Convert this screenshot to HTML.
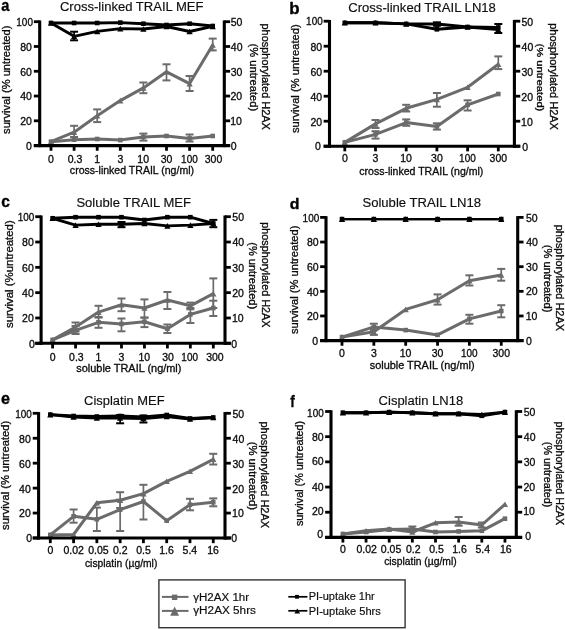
<!DOCTYPE html>
<html><head><meta charset="utf-8"><style>
html,body{margin:0;padding:0;background:#fff;}
svg{display:block;filter:grayscale(100%) blur(0.3px);}
text{font-family:"Liberation Sans",sans-serif;stroke:#000;stroke-width:0.3px;}
.lbl{stroke-width:0.35px;}
.ttl{stroke-width:0.15px;}
</style></head><body>
<svg width="565" height="630" viewBox="0 0 565 630">
<rect width="565" height="630" fill="#fff"/>
<line x1="143.40" y1="133.60" x2="143.40" y2="140.60" stroke="#6b6b6b" stroke-width="1.7" stroke-linecap="butt"/>
<line x1="139.40" y1="133.60" x2="147.40" y2="133.60" stroke="#6b6b6b" stroke-width="2.0" stroke-linecap="butt"/>
<line x1="139.40" y1="140.60" x2="147.40" y2="140.60" stroke="#6b6b6b" stroke-width="2.0" stroke-linecap="butt"/>
<line x1="189.60" y1="134.50" x2="189.60" y2="141.50" stroke="#6b6b6b" stroke-width="1.7" stroke-linecap="butt"/>
<line x1="185.60" y1="134.50" x2="193.60" y2="134.50" stroke="#6b6b6b" stroke-width="2.0" stroke-linecap="butt"/>
<line x1="185.60" y1="141.50" x2="193.60" y2="141.50" stroke="#6b6b6b" stroke-width="2.0" stroke-linecap="butt"/>
<polyline points="51.00,141.70 74.10,139.70 97.20,139.00 120.30,140.10 143.40,137.00 166.50,136.00 189.60,138.40 212.70,136.00" fill="none" stroke="#6b6b6b" stroke-width="3.0" stroke-linejoin="round" stroke-linecap="butt"/>
<rect x="48.70" y="139.40" width="4.60" height="4.60" fill="#6b6b6b"/>
<rect x="71.80" y="137.40" width="4.60" height="4.60" fill="#6b6b6b"/>
<rect x="94.90" y="136.70" width="4.60" height="4.60" fill="#6b6b6b"/>
<rect x="118.00" y="137.80" width="4.60" height="4.60" fill="#6b6b6b"/>
<rect x="141.10" y="134.70" width="4.60" height="4.60" fill="#6b6b6b"/>
<rect x="164.20" y="133.70" width="4.60" height="4.60" fill="#6b6b6b"/>
<rect x="187.30" y="136.10" width="4.60" height="4.60" fill="#6b6b6b"/>
<rect x="210.40" y="133.70" width="4.60" height="4.60" fill="#6b6b6b"/>
<line x1="74.10" y1="125.80" x2="74.10" y2="137.00" stroke="#6b6b6b" stroke-width="1.7" stroke-linecap="butt"/>
<line x1="70.10" y1="125.80" x2="78.10" y2="125.80" stroke="#6b6b6b" stroke-width="2.0" stroke-linecap="butt"/>
<line x1="70.10" y1="137.00" x2="78.10" y2="137.00" stroke="#6b6b6b" stroke-width="2.0" stroke-linecap="butt"/>
<line x1="97.20" y1="109.40" x2="97.20" y2="122.10" stroke="#6b6b6b" stroke-width="1.7" stroke-linecap="butt"/>
<line x1="93.20" y1="109.40" x2="101.20" y2="109.40" stroke="#6b6b6b" stroke-width="2.0" stroke-linecap="butt"/>
<line x1="93.20" y1="122.10" x2="101.20" y2="122.10" stroke="#6b6b6b" stroke-width="2.0" stroke-linecap="butt"/>
<line x1="143.40" y1="82.50" x2="143.40" y2="93.20" stroke="#6b6b6b" stroke-width="1.7" stroke-linecap="butt"/>
<line x1="139.40" y1="82.50" x2="147.40" y2="82.50" stroke="#6b6b6b" stroke-width="2.0" stroke-linecap="butt"/>
<line x1="139.40" y1="93.20" x2="147.40" y2="93.20" stroke="#6b6b6b" stroke-width="2.0" stroke-linecap="butt"/>
<line x1="166.50" y1="64.30" x2="166.50" y2="80.40" stroke="#6b6b6b" stroke-width="1.7" stroke-linecap="butt"/>
<line x1="162.50" y1="64.30" x2="170.50" y2="64.30" stroke="#6b6b6b" stroke-width="2.0" stroke-linecap="butt"/>
<line x1="162.50" y1="80.40" x2="170.50" y2="80.40" stroke="#6b6b6b" stroke-width="2.0" stroke-linecap="butt"/>
<line x1="189.60" y1="76.00" x2="189.60" y2="91.00" stroke="#6b6b6b" stroke-width="1.7" stroke-linecap="butt"/>
<line x1="185.60" y1="76.00" x2="193.60" y2="76.00" stroke="#6b6b6b" stroke-width="2.0" stroke-linecap="butt"/>
<line x1="185.60" y1="91.00" x2="193.60" y2="91.00" stroke="#6b6b6b" stroke-width="2.0" stroke-linecap="butt"/>
<line x1="212.70" y1="38.60" x2="212.70" y2="50.40" stroke="#6b6b6b" stroke-width="1.7" stroke-linecap="butt"/>
<line x1="208.70" y1="38.60" x2="216.70" y2="38.60" stroke="#6b6b6b" stroke-width="2.0" stroke-linecap="butt"/>
<line x1="208.70" y1="50.40" x2="216.70" y2="50.40" stroke="#6b6b6b" stroke-width="2.0" stroke-linecap="butt"/>
<polyline points="51.00,141.70 74.10,132.20 97.20,115.70 120.30,100.60 143.40,87.90 166.50,71.80 189.60,83.60 212.70,45.00" fill="none" stroke="#6b6b6b" stroke-width="3.0" stroke-linejoin="round" stroke-linecap="butt"/>
<polygon points="47.90,144.49 54.10,144.49 51.00,138.91" fill="#6b6b6b"/>
<polygon points="71.00,134.99 77.20,134.99 74.10,129.41" fill="#6b6b6b"/>
<polygon points="94.10,118.49 100.30,118.49 97.20,112.91" fill="#6b6b6b"/>
<polygon points="117.20,103.39 123.40,103.39 120.30,97.81" fill="#6b6b6b"/>
<polygon points="140.30,90.69 146.50,90.69 143.40,85.11" fill="#6b6b6b"/>
<polygon points="163.40,74.59 169.60,74.59 166.50,69.01" fill="#6b6b6b"/>
<polygon points="186.50,86.39 192.70,86.39 189.60,80.81" fill="#6b6b6b"/>
<polygon points="209.60,47.79 215.80,47.79 212.70,42.21" fill="#6b6b6b"/>
<polyline points="51.00,23.00 74.10,23.00 97.20,23.00 120.30,22.60 143.40,23.70 166.50,25.00 189.60,23.70 212.70,26.00" fill="none" stroke="#000" stroke-width="2.9" stroke-linejoin="round" stroke-linecap="butt"/>
<rect x="48.70" y="20.70" width="4.60" height="4.60" fill="#000"/>
<rect x="71.80" y="20.70" width="4.60" height="4.60" fill="#000"/>
<rect x="94.90" y="20.70" width="4.60" height="4.60" fill="#000"/>
<rect x="118.00" y="20.30" width="4.60" height="4.60" fill="#000"/>
<rect x="141.10" y="21.40" width="4.60" height="4.60" fill="#000"/>
<rect x="164.20" y="22.70" width="4.60" height="4.60" fill="#000"/>
<rect x="187.30" y="21.40" width="4.60" height="4.60" fill="#000"/>
<rect x="210.40" y="23.70" width="4.60" height="4.60" fill="#000"/>
<line x1="74.10" y1="31.70" x2="74.10" y2="40.30" stroke="#000" stroke-width="1.7" stroke-linecap="butt"/>
<line x1="70.10" y1="31.70" x2="78.10" y2="31.70" stroke="#000" stroke-width="2.0" stroke-linecap="butt"/>
<line x1="70.10" y1="40.30" x2="78.10" y2="40.30" stroke="#000" stroke-width="2.0" stroke-linecap="butt"/>
<polyline points="51.00,23.00 74.10,36.30 97.20,31.40 120.30,28.60 143.40,29.00 166.50,26.50 189.60,31.50 212.70,26.40" fill="none" stroke="#000" stroke-width="2.9" stroke-linejoin="round" stroke-linecap="butt"/>
<polygon points="47.90,25.79 54.10,25.79 51.00,20.21" fill="#000"/>
<polygon points="71.00,39.09 77.20,39.09 74.10,33.51" fill="#000"/>
<polygon points="94.10,34.19 100.30,34.19 97.20,28.61" fill="#000"/>
<polygon points="117.20,31.39 123.40,31.39 120.30,25.81" fill="#000"/>
<polygon points="140.30,31.79 146.50,31.79 143.40,26.21" fill="#000"/>
<polygon points="163.40,29.29 169.60,29.29 166.50,23.71" fill="#000"/>
<polygon points="186.50,34.29 192.70,34.29 189.60,28.71" fill="#000"/>
<polygon points="209.60,29.19 215.80,29.19 212.70,23.61" fill="#000"/>
<line x1="39.70" y1="20.45" x2="39.70" y2="147.15" stroke="#000" stroke-width="3.1" stroke-linecap="butt"/>
<line x1="224.30" y1="20.45" x2="224.30" y2="147.15" stroke="#000" stroke-width="3.1" stroke-linecap="butt"/>
<line x1="33.85" y1="145.60" x2="230.15" y2="145.60" stroke="#000" stroke-width="3.1" stroke-linecap="butt"/>
<line x1="33.85" y1="21.70" x2="39.70" y2="21.70" stroke="#000" stroke-width="2.8" stroke-linecap="butt"/>
<line x1="224.30" y1="21.70" x2="230.15" y2="21.70" stroke="#000" stroke-width="2.8" stroke-linecap="butt"/>
<line x1="33.85" y1="46.48" x2="39.70" y2="46.48" stroke="#000" stroke-width="2.8" stroke-linecap="butt"/>
<line x1="224.30" y1="46.48" x2="230.15" y2="46.48" stroke="#000" stroke-width="2.8" stroke-linecap="butt"/>
<line x1="33.85" y1="71.26" x2="39.70" y2="71.26" stroke="#000" stroke-width="2.8" stroke-linecap="butt"/>
<line x1="224.30" y1="71.26" x2="230.15" y2="71.26" stroke="#000" stroke-width="2.8" stroke-linecap="butt"/>
<line x1="33.85" y1="96.04" x2="39.70" y2="96.04" stroke="#000" stroke-width="2.8" stroke-linecap="butt"/>
<line x1="224.30" y1="96.04" x2="230.15" y2="96.04" stroke="#000" stroke-width="2.8" stroke-linecap="butt"/>
<line x1="33.85" y1="120.82" x2="39.70" y2="120.82" stroke="#000" stroke-width="2.8" stroke-linecap="butt"/>
<line x1="224.30" y1="120.82" x2="230.15" y2="120.82" stroke="#000" stroke-width="2.8" stroke-linecap="butt"/>
<line x1="33.85" y1="145.60" x2="39.70" y2="145.60" stroke="#000" stroke-width="2.8" stroke-linecap="butt"/>
<line x1="224.30" y1="145.60" x2="230.15" y2="145.60" stroke="#000" stroke-width="2.8" stroke-linecap="butt"/>
<line x1="51.00" y1="145.60" x2="51.00" y2="150.75" stroke="#000" stroke-width="2.8" stroke-linecap="butt"/>
<line x1="74.10" y1="145.60" x2="74.10" y2="150.75" stroke="#000" stroke-width="2.8" stroke-linecap="butt"/>
<line x1="97.20" y1="145.60" x2="97.20" y2="150.75" stroke="#000" stroke-width="2.8" stroke-linecap="butt"/>
<line x1="120.30" y1="145.60" x2="120.30" y2="150.75" stroke="#000" stroke-width="2.8" stroke-linecap="butt"/>
<line x1="143.40" y1="145.60" x2="143.40" y2="150.75" stroke="#000" stroke-width="2.8" stroke-linecap="butt"/>
<line x1="166.50" y1="145.60" x2="166.50" y2="150.75" stroke="#000" stroke-width="2.8" stroke-linecap="butt"/>
<line x1="189.60" y1="145.60" x2="189.60" y2="150.75" stroke="#000" stroke-width="2.8" stroke-linecap="butt"/>
<line x1="212.70" y1="145.60" x2="212.70" y2="150.75" stroke="#000" stroke-width="2.8" stroke-linecap="butt"/>
<text x="26.02" y="149.97" font-size="10.50" font-weight="normal" fill="#111">0</text>
<text x="20.18" y="125.19" font-size="10.50" font-weight="normal" fill="#111">20</text>
<text x="20.18" y="100.41" font-size="10.50" font-weight="normal" fill="#111">40</text>
<text x="20.18" y="75.63" font-size="10.50" font-weight="normal" fill="#111">60</text>
<text x="20.18" y="50.86" font-size="10.50" font-weight="normal" fill="#111">80</text>
<text x="16.30" y="26.07" font-size="10.50" font-weight="normal" fill="#111" textLength="16.64" lengthAdjust="spacingAndGlyphs">100</text>
<text x="230.64" y="149.57" font-size="10.50" font-weight="normal" fill="#111">0</text>
<text x="230.25" y="125.19" font-size="10.50" font-weight="normal" fill="#111">10</text>
<text x="230.53" y="100.41" font-size="10.50" font-weight="normal" fill="#111">20</text>
<text x="230.65" y="75.63" font-size="10.50" font-weight="normal" fill="#111">30</text>
<text x="230.81" y="50.86" font-size="10.50" font-weight="normal" fill="#111">40</text>
<text x="230.63" y="26.07" font-size="10.50" font-weight="normal" fill="#111">50</text>
<text x="48.08" y="162.70" font-size="10.50" font-weight="normal" fill="#111">0</text>
<text x="67.63" y="162.70" font-size="10.50" font-weight="normal" fill="#111">0.3</text>
<text x="94.14" y="162.70" font-size="10.50" font-weight="normal" fill="#111">1</text>
<text x="117.41" y="162.70" font-size="10.50" font-weight="normal" fill="#111">3</text>
<text x="137.37" y="162.70" font-size="10.50" font-weight="normal" fill="#111">10</text>
<text x="160.67" y="162.70" font-size="10.50" font-weight="normal" fill="#111">30</text>
<text x="181.10" y="162.70" font-size="10.50" font-weight="normal" fill="#111" textLength="16.64" lengthAdjust="spacingAndGlyphs">100</text>
<text x="204.75" y="162.70" font-size="10.50" font-weight="normal" fill="#111">300</text>
<text x="1.33" y="10.59" font-size="16.13" font-weight="bold" fill="#000" textLength="8.12" lengthAdjust="spacingAndGlyphs" class="lbl">a</text>
<text x="59.93" y="10.50" font-size="12.50" font-weight="normal" fill="#111" textLength="143.58" lengthAdjust="spacingAndGlyphs" class="ttl">Cross-linked TRAIL MEF</text>
<text x="69.86" y="174.30" font-size="10.50" font-weight="normal" fill="#111" textLength="124.19" lengthAdjust="spacingAndGlyphs">cross-linked TRAIL (ng/ml)</text>
<text transform="translate(9.84,133.65) rotate(-90)" x="-0.31" y="0" font-size="10.68" font-weight="normal" fill="#111" textLength="108.40" lengthAdjust="spacingAndGlyphs">survival (% untreated)</text>
<text transform="translate(262.29,24.20) rotate(90)" x="-0.70" y="0" font-size="10.29" font-weight="normal" fill="#111" textLength="106.37" lengthAdjust="spacingAndGlyphs">phosphorylated H2AX</text>
<text transform="translate(249.68,44.25) rotate(90)" x="-0.69" y="0" font-size="11.27" font-weight="normal" fill="#111" textLength="67.58" lengthAdjust="spacingAndGlyphs">(% untreated)</text>
<line x1="375.50" y1="131.20" x2="375.50" y2="138.60" stroke="#6b6b6b" stroke-width="1.7" stroke-linecap="butt"/>
<line x1="371.50" y1="131.20" x2="379.50" y2="131.20" stroke="#6b6b6b" stroke-width="2.0" stroke-linecap="butt"/>
<line x1="371.50" y1="138.60" x2="379.50" y2="138.60" stroke="#6b6b6b" stroke-width="2.0" stroke-linecap="butt"/>
<line x1="406.20" y1="119.40" x2="406.20" y2="125.80" stroke="#6b6b6b" stroke-width="1.7" stroke-linecap="butt"/>
<line x1="402.20" y1="119.40" x2="410.20" y2="119.40" stroke="#6b6b6b" stroke-width="2.0" stroke-linecap="butt"/>
<line x1="402.20" y1="125.80" x2="410.20" y2="125.80" stroke="#6b6b6b" stroke-width="2.0" stroke-linecap="butt"/>
<line x1="436.90" y1="123.30" x2="436.90" y2="129.60" stroke="#6b6b6b" stroke-width="1.7" stroke-linecap="butt"/>
<line x1="432.90" y1="123.30" x2="440.90" y2="123.30" stroke="#6b6b6b" stroke-width="2.0" stroke-linecap="butt"/>
<line x1="432.90" y1="129.60" x2="440.90" y2="129.60" stroke="#6b6b6b" stroke-width="2.0" stroke-linecap="butt"/>
<line x1="467.60" y1="100.30" x2="467.60" y2="110.50" stroke="#6b6b6b" stroke-width="1.7" stroke-linecap="butt"/>
<line x1="463.60" y1="100.30" x2="471.60" y2="100.30" stroke="#6b6b6b" stroke-width="2.0" stroke-linecap="butt"/>
<line x1="463.60" y1="110.50" x2="471.60" y2="110.50" stroke="#6b6b6b" stroke-width="2.0" stroke-linecap="butt"/>
<polyline points="344.80,142.40 375.50,134.40 406.20,122.60 436.90,126.50 467.60,104.80 498.30,94.00" fill="none" stroke="#6b6b6b" stroke-width="3.0" stroke-linejoin="round" stroke-linecap="butt"/>
<rect x="342.50" y="140.10" width="4.60" height="4.60" fill="#6b6b6b"/>
<rect x="373.20" y="132.10" width="4.60" height="4.60" fill="#6b6b6b"/>
<rect x="403.90" y="120.30" width="4.60" height="4.60" fill="#6b6b6b"/>
<rect x="434.60" y="124.20" width="4.60" height="4.60" fill="#6b6b6b"/>
<rect x="465.30" y="102.50" width="4.60" height="4.60" fill="#6b6b6b"/>
<rect x="496.00" y="91.70" width="4.60" height="4.60" fill="#6b6b6b"/>
<line x1="375.50" y1="120.00" x2="375.50" y2="128.00" stroke="#6b6b6b" stroke-width="1.7" stroke-linecap="butt"/>
<line x1="371.50" y1="120.00" x2="379.50" y2="120.00" stroke="#6b6b6b" stroke-width="2.0" stroke-linecap="butt"/>
<line x1="371.50" y1="128.00" x2="379.50" y2="128.00" stroke="#6b6b6b" stroke-width="2.0" stroke-linecap="butt"/>
<line x1="406.20" y1="104.80" x2="406.20" y2="111.50" stroke="#6b6b6b" stroke-width="1.7" stroke-linecap="butt"/>
<line x1="402.20" y1="104.80" x2="410.20" y2="104.80" stroke="#6b6b6b" stroke-width="2.0" stroke-linecap="butt"/>
<line x1="402.20" y1="111.50" x2="410.20" y2="111.50" stroke="#6b6b6b" stroke-width="2.0" stroke-linecap="butt"/>
<line x1="436.90" y1="93.00" x2="436.90" y2="106.70" stroke="#6b6b6b" stroke-width="1.7" stroke-linecap="butt"/>
<line x1="432.90" y1="93.00" x2="440.90" y2="93.00" stroke="#6b6b6b" stroke-width="2.0" stroke-linecap="butt"/>
<line x1="432.90" y1="106.70" x2="440.90" y2="106.70" stroke="#6b6b6b" stroke-width="2.0" stroke-linecap="butt"/>
<line x1="498.30" y1="56.40" x2="498.30" y2="69.10" stroke="#6b6b6b" stroke-width="1.7" stroke-linecap="butt"/>
<line x1="494.30" y1="56.40" x2="502.30" y2="56.40" stroke="#6b6b6b" stroke-width="2.0" stroke-linecap="butt"/>
<line x1="494.30" y1="69.10" x2="502.30" y2="69.10" stroke="#6b6b6b" stroke-width="2.0" stroke-linecap="butt"/>
<polyline points="344.80,142.40 375.50,123.90 406.20,108.30 436.90,99.40 467.60,87.30 498.30,64.30" fill="none" stroke="#6b6b6b" stroke-width="3.0" stroke-linejoin="round" stroke-linecap="butt"/>
<polygon points="341.70,145.19 347.90,145.19 344.80,139.61" fill="#6b6b6b"/>
<polygon points="372.40,126.69 378.60,126.69 375.50,121.11" fill="#6b6b6b"/>
<polygon points="403.10,111.09 409.30,111.09 406.20,105.51" fill="#6b6b6b"/>
<polygon points="433.80,102.19 440.00,102.19 436.90,96.61" fill="#6b6b6b"/>
<polygon points="464.50,90.09 470.70,90.09 467.60,84.51" fill="#6b6b6b"/>
<polygon points="495.20,67.09 501.40,67.09 498.30,61.51" fill="#6b6b6b"/>
<polyline points="344.80,22.80 375.50,22.80 406.20,23.90 436.90,29.30 467.60,27.00 498.30,27.50" fill="none" stroke="#000" stroke-width="2.9" stroke-linejoin="round" stroke-linecap="butt"/>
<rect x="342.50" y="20.50" width="4.60" height="4.60" fill="#000"/>
<rect x="373.20" y="20.50" width="4.60" height="4.60" fill="#000"/>
<rect x="403.90" y="21.60" width="4.60" height="4.60" fill="#000"/>
<rect x="434.60" y="27.00" width="4.60" height="4.60" fill="#000"/>
<rect x="465.30" y="24.70" width="4.60" height="4.60" fill="#000"/>
<rect x="496.00" y="25.20" width="4.60" height="4.60" fill="#000"/>
<line x1="436.90" y1="22.30" x2="436.90" y2="25.70" stroke="#000" stroke-width="1.7" stroke-linecap="butt"/>
<line x1="432.90" y1="22.30" x2="440.90" y2="22.30" stroke="#000" stroke-width="2.0" stroke-linecap="butt"/>
<line x1="432.90" y1="25.70" x2="440.90" y2="25.70" stroke="#000" stroke-width="2.0" stroke-linecap="butt"/>
<line x1="498.30" y1="24.00" x2="498.30" y2="33.00" stroke="#000" stroke-width="1.7" stroke-linecap="butt"/>
<line x1="494.30" y1="24.00" x2="502.30" y2="24.00" stroke="#000" stroke-width="2.0" stroke-linecap="butt"/>
<line x1="494.30" y1="33.00" x2="502.30" y2="33.00" stroke="#000" stroke-width="2.0" stroke-linecap="butt"/>
<polyline points="344.80,22.80 375.50,22.80 406.20,23.90 436.90,24.00 467.60,27.00 498.30,29.50" fill="none" stroke="#000" stroke-width="2.9" stroke-linejoin="round" stroke-linecap="butt"/>
<polygon points="341.70,25.59 347.90,25.59 344.80,20.01" fill="#000"/>
<polygon points="372.40,25.59 378.60,25.59 375.50,20.01" fill="#000"/>
<polygon points="403.10,26.69 409.30,26.69 406.20,21.11" fill="#000"/>
<polygon points="433.80,26.79 440.00,26.79 436.90,21.21" fill="#000"/>
<polygon points="464.50,29.79 470.70,29.79 467.60,24.21" fill="#000"/>
<polygon points="495.20,32.29 501.40,32.29 498.30,26.71" fill="#000"/>
<line x1="329.50" y1="19.95" x2="329.50" y2="147.75" stroke="#000" stroke-width="3.1" stroke-linecap="butt"/>
<line x1="514.40" y1="19.95" x2="514.40" y2="147.75" stroke="#000" stroke-width="3.1" stroke-linecap="butt"/>
<line x1="323.65" y1="146.20" x2="520.25" y2="146.20" stroke="#000" stroke-width="3.1" stroke-linecap="butt"/>
<line x1="323.65" y1="21.20" x2="329.50" y2="21.20" stroke="#000" stroke-width="2.8" stroke-linecap="butt"/>
<line x1="514.40" y1="21.20" x2="520.25" y2="21.20" stroke="#000" stroke-width="2.8" stroke-linecap="butt"/>
<line x1="323.65" y1="46.20" x2="329.50" y2="46.20" stroke="#000" stroke-width="2.8" stroke-linecap="butt"/>
<line x1="514.40" y1="46.20" x2="520.25" y2="46.20" stroke="#000" stroke-width="2.8" stroke-linecap="butt"/>
<line x1="323.65" y1="71.20" x2="329.50" y2="71.20" stroke="#000" stroke-width="2.8" stroke-linecap="butt"/>
<line x1="514.40" y1="71.20" x2="520.25" y2="71.20" stroke="#000" stroke-width="2.8" stroke-linecap="butt"/>
<line x1="323.65" y1="96.20" x2="329.50" y2="96.20" stroke="#000" stroke-width="2.8" stroke-linecap="butt"/>
<line x1="514.40" y1="96.20" x2="520.25" y2="96.20" stroke="#000" stroke-width="2.8" stroke-linecap="butt"/>
<line x1="323.65" y1="121.20" x2="329.50" y2="121.20" stroke="#000" stroke-width="2.8" stroke-linecap="butt"/>
<line x1="514.40" y1="121.20" x2="520.25" y2="121.20" stroke="#000" stroke-width="2.8" stroke-linecap="butt"/>
<line x1="323.65" y1="146.20" x2="329.50" y2="146.20" stroke="#000" stroke-width="2.8" stroke-linecap="butt"/>
<line x1="514.40" y1="146.20" x2="520.25" y2="146.20" stroke="#000" stroke-width="2.8" stroke-linecap="butt"/>
<line x1="344.80" y1="146.20" x2="344.80" y2="151.35" stroke="#000" stroke-width="2.8" stroke-linecap="butt"/>
<line x1="375.50" y1="146.20" x2="375.50" y2="151.35" stroke="#000" stroke-width="2.8" stroke-linecap="butt"/>
<line x1="406.20" y1="146.20" x2="406.20" y2="151.35" stroke="#000" stroke-width="2.8" stroke-linecap="butt"/>
<line x1="436.90" y1="146.20" x2="436.90" y2="151.35" stroke="#000" stroke-width="2.8" stroke-linecap="butt"/>
<line x1="467.60" y1="146.20" x2="467.60" y2="151.35" stroke="#000" stroke-width="2.8" stroke-linecap="butt"/>
<line x1="498.30" y1="146.20" x2="498.30" y2="151.35" stroke="#000" stroke-width="2.8" stroke-linecap="butt"/>
<text x="315.02" y="149.77" font-size="10.50" font-weight="normal" fill="#111">0</text>
<text x="310.48" y="126.07" font-size="10.50" font-weight="normal" fill="#111">20</text>
<text x="310.48" y="101.07" font-size="10.50" font-weight="normal" fill="#111">40</text>
<text x="310.48" y="76.08" font-size="10.50" font-weight="normal" fill="#111">60</text>
<text x="310.48" y="51.08" font-size="10.50" font-weight="normal" fill="#111">80</text>
<text x="306.10" y="24.88" font-size="10.50" font-weight="normal" fill="#111" textLength="16.64" lengthAdjust="spacingAndGlyphs">100</text>
<text x="522.24" y="150.57" font-size="10.50" font-weight="normal" fill="#111">0</text>
<text x="521.05" y="125.57" font-size="10.50" font-weight="normal" fill="#111">10</text>
<text x="521.33" y="100.57" font-size="10.50" font-weight="normal" fill="#111">20</text>
<text x="521.45" y="75.58" font-size="10.50" font-weight="normal" fill="#111">30</text>
<text x="521.61" y="50.58" font-size="10.50" font-weight="normal" fill="#111">40</text>
<text x="521.43" y="25.58" font-size="10.50" font-weight="normal" fill="#111">50</text>
<text x="341.88" y="161.80" font-size="10.50" font-weight="normal" fill="#111">0</text>
<text x="372.61" y="161.80" font-size="10.50" font-weight="normal" fill="#111">3</text>
<text x="400.17" y="161.80" font-size="10.50" font-weight="normal" fill="#111">10</text>
<text x="431.07" y="161.80" font-size="10.50" font-weight="normal" fill="#111">30</text>
<text x="459.10" y="161.80" font-size="10.50" font-weight="normal" fill="#111" textLength="16.64" lengthAdjust="spacingAndGlyphs">100</text>
<text x="489.55" y="161.80" font-size="10.50" font-weight="normal" fill="#111">300</text>
<text x="289.24" y="13.59" font-size="16.24" font-weight="bold" fill="#000" textLength="10.30" lengthAdjust="spacingAndGlyphs" class="lbl">b</text>
<text x="348.23" y="11.50" font-size="12.50" font-weight="normal" fill="#111" textLength="147.68" lengthAdjust="spacingAndGlyphs" class="ttl">Cross-linked TRAIL LN18</text>
<text x="359.26" y="174.50" font-size="10.50" font-weight="normal" fill="#111" textLength="124.09" lengthAdjust="spacingAndGlyphs">cross-linked TRAIL (ng/ml)</text>
<text transform="translate(299.47,132.75) rotate(-90)" x="-0.31" y="0" font-size="11.48" font-weight="normal" fill="#111" textLength="108.71" lengthAdjust="spacingAndGlyphs">survival (% untreated)</text>
<text transform="translate(549.61,23.95) rotate(90)" x="-0.70" y="0" font-size="10.40" font-weight="normal" fill="#111" textLength="106.63" lengthAdjust="spacingAndGlyphs">phosphorylated H2AX</text>
<text transform="translate(537.32,44.15) rotate(90)" x="-0.69" y="0" font-size="9.98" font-weight="normal" fill="#111" textLength="67.89" lengthAdjust="spacingAndGlyphs">(% untreated)</text>
<line x1="75.56" y1="326.00" x2="75.56" y2="334.00" stroke="#6b6b6b" stroke-width="1.7" stroke-linecap="butt"/>
<line x1="71.56" y1="326.00" x2="79.56" y2="326.00" stroke="#6b6b6b" stroke-width="2.0" stroke-linecap="butt"/>
<line x1="71.56" y1="334.00" x2="79.56" y2="334.00" stroke="#6b6b6b" stroke-width="2.0" stroke-linecap="butt"/>
<line x1="98.52" y1="317.00" x2="98.52" y2="327.80" stroke="#6b6b6b" stroke-width="1.7" stroke-linecap="butt"/>
<line x1="94.52" y1="317.00" x2="102.52" y2="317.00" stroke="#6b6b6b" stroke-width="2.0" stroke-linecap="butt"/>
<line x1="94.52" y1="327.80" x2="102.52" y2="327.80" stroke="#6b6b6b" stroke-width="2.0" stroke-linecap="butt"/>
<line x1="121.48" y1="318.50" x2="121.48" y2="331.30" stroke="#6b6b6b" stroke-width="1.7" stroke-linecap="butt"/>
<line x1="117.48" y1="318.50" x2="125.48" y2="318.50" stroke="#6b6b6b" stroke-width="2.0" stroke-linecap="butt"/>
<line x1="117.48" y1="331.30" x2="125.48" y2="331.30" stroke="#6b6b6b" stroke-width="2.0" stroke-linecap="butt"/>
<line x1="144.44" y1="317.60" x2="144.44" y2="327.10" stroke="#6b6b6b" stroke-width="1.7" stroke-linecap="butt"/>
<line x1="140.44" y1="317.60" x2="148.44" y2="317.60" stroke="#6b6b6b" stroke-width="2.0" stroke-linecap="butt"/>
<line x1="140.44" y1="327.10" x2="148.44" y2="327.10" stroke="#6b6b6b" stroke-width="2.0" stroke-linecap="butt"/>
<line x1="167.40" y1="324.50" x2="167.40" y2="333.00" stroke="#6b6b6b" stroke-width="1.7" stroke-linecap="butt"/>
<line x1="163.40" y1="324.50" x2="171.40" y2="324.50" stroke="#6b6b6b" stroke-width="2.0" stroke-linecap="butt"/>
<line x1="163.40" y1="333.00" x2="171.40" y2="333.00" stroke="#6b6b6b" stroke-width="2.0" stroke-linecap="butt"/>
<line x1="190.36" y1="308.00" x2="190.36" y2="323.00" stroke="#6b6b6b" stroke-width="1.7" stroke-linecap="butt"/>
<line x1="186.36" y1="308.00" x2="194.36" y2="308.00" stroke="#6b6b6b" stroke-width="2.0" stroke-linecap="butt"/>
<line x1="186.36" y1="323.00" x2="194.36" y2="323.00" stroke="#6b6b6b" stroke-width="2.0" stroke-linecap="butt"/>
<line x1="213.32" y1="300.70" x2="213.32" y2="316.00" stroke="#6b6b6b" stroke-width="1.7" stroke-linecap="butt"/>
<line x1="209.32" y1="300.70" x2="217.32" y2="300.70" stroke="#6b6b6b" stroke-width="2.0" stroke-linecap="butt"/>
<line x1="209.32" y1="316.00" x2="217.32" y2="316.00" stroke="#6b6b6b" stroke-width="2.0" stroke-linecap="butt"/>
<polyline points="52.60,339.90 75.56,330.30 98.52,322.30 121.48,323.90 144.44,321.70 167.40,328.70 190.36,314.40 213.32,308.00" fill="none" stroke="#6b6b6b" stroke-width="3.0" stroke-linejoin="round" stroke-linecap="butt"/>
<rect x="50.30" y="337.60" width="4.60" height="4.60" fill="#6b6b6b"/>
<rect x="73.26" y="328.00" width="4.60" height="4.60" fill="#6b6b6b"/>
<rect x="96.22" y="320.00" width="4.60" height="4.60" fill="#6b6b6b"/>
<rect x="119.18" y="321.60" width="4.60" height="4.60" fill="#6b6b6b"/>
<rect x="142.14" y="319.40" width="4.60" height="4.60" fill="#6b6b6b"/>
<rect x="165.10" y="326.40" width="4.60" height="4.60" fill="#6b6b6b"/>
<rect x="188.06" y="312.10" width="4.60" height="4.60" fill="#6b6b6b"/>
<rect x="211.02" y="305.70" width="4.60" height="4.60" fill="#6b6b6b"/>
<line x1="75.56" y1="322.50" x2="75.56" y2="331.50" stroke="#6b6b6b" stroke-width="1.7" stroke-linecap="butt"/>
<line x1="71.56" y1="322.50" x2="79.56" y2="322.50" stroke="#6b6b6b" stroke-width="2.0" stroke-linecap="butt"/>
<line x1="71.56" y1="331.50" x2="79.56" y2="331.50" stroke="#6b6b6b" stroke-width="2.0" stroke-linecap="butt"/>
<line x1="98.52" y1="305.80" x2="98.52" y2="317.60" stroke="#6b6b6b" stroke-width="1.7" stroke-linecap="butt"/>
<line x1="94.52" y1="305.80" x2="102.52" y2="305.80" stroke="#6b6b6b" stroke-width="2.0" stroke-linecap="butt"/>
<line x1="94.52" y1="317.60" x2="102.52" y2="317.60" stroke="#6b6b6b" stroke-width="2.0" stroke-linecap="butt"/>
<line x1="121.48" y1="298.50" x2="121.48" y2="311.20" stroke="#6b6b6b" stroke-width="1.7" stroke-linecap="butt"/>
<line x1="117.48" y1="298.50" x2="125.48" y2="298.50" stroke="#6b6b6b" stroke-width="2.0" stroke-linecap="butt"/>
<line x1="117.48" y1="311.20" x2="125.48" y2="311.20" stroke="#6b6b6b" stroke-width="2.0" stroke-linecap="butt"/>
<line x1="144.44" y1="299.40" x2="144.44" y2="317.60" stroke="#6b6b6b" stroke-width="1.7" stroke-linecap="butt"/>
<line x1="140.44" y1="299.40" x2="148.44" y2="299.40" stroke="#6b6b6b" stroke-width="2.0" stroke-linecap="butt"/>
<line x1="140.44" y1="317.60" x2="148.44" y2="317.60" stroke="#6b6b6b" stroke-width="2.0" stroke-linecap="butt"/>
<line x1="167.40" y1="292.00" x2="167.40" y2="309.00" stroke="#6b6b6b" stroke-width="1.7" stroke-linecap="butt"/>
<line x1="163.40" y1="292.00" x2="171.40" y2="292.00" stroke="#6b6b6b" stroke-width="2.0" stroke-linecap="butt"/>
<line x1="163.40" y1="309.00" x2="171.40" y2="309.00" stroke="#6b6b6b" stroke-width="2.0" stroke-linecap="butt"/>
<line x1="190.36" y1="302.60" x2="190.36" y2="309.30" stroke="#6b6b6b" stroke-width="1.7" stroke-linecap="butt"/>
<line x1="186.36" y1="302.60" x2="194.36" y2="302.60" stroke="#6b6b6b" stroke-width="2.0" stroke-linecap="butt"/>
<line x1="186.36" y1="309.30" x2="194.36" y2="309.30" stroke="#6b6b6b" stroke-width="2.0" stroke-linecap="butt"/>
<line x1="213.32" y1="278.40" x2="213.32" y2="308.00" stroke="#6b6b6b" stroke-width="1.7" stroke-linecap="butt"/>
<line x1="209.32" y1="278.40" x2="217.32" y2="278.40" stroke="#6b6b6b" stroke-width="2.0" stroke-linecap="butt"/>
<line x1="209.32" y1="308.00" x2="217.32" y2="308.00" stroke="#6b6b6b" stroke-width="2.0" stroke-linecap="butt"/>
<polyline points="52.60,339.90 75.56,327.10 98.52,312.10 121.48,304.80 144.44,308.00 167.40,300.00 190.36,305.80 213.32,293.70" fill="none" stroke="#6b6b6b" stroke-width="3.0" stroke-linejoin="round" stroke-linecap="butt"/>
<polygon points="49.50,342.69 55.70,342.69 52.60,337.11" fill="#6b6b6b"/>
<polygon points="72.46,329.89 78.66,329.89 75.56,324.31" fill="#6b6b6b"/>
<polygon points="95.42,314.89 101.62,314.89 98.52,309.31" fill="#6b6b6b"/>
<polygon points="118.38,307.59 124.58,307.59 121.48,302.01" fill="#6b6b6b"/>
<polygon points="141.34,310.79 147.54,310.79 144.44,305.21" fill="#6b6b6b"/>
<polygon points="164.30,302.79 170.50,302.79 167.40,297.21" fill="#6b6b6b"/>
<polygon points="187.26,308.59 193.46,308.59 190.36,303.01" fill="#6b6b6b"/>
<polygon points="210.22,296.49 216.42,296.49 213.32,290.91" fill="#6b6b6b"/>
<polyline points="52.60,218.30 75.56,217.20 98.52,217.20 121.48,217.20 144.44,220.00 167.40,217.20 190.36,217.20 213.32,223.50" fill="none" stroke="#000" stroke-width="2.9" stroke-linejoin="round" stroke-linecap="butt"/>
<rect x="50.30" y="216.00" width="4.60" height="4.60" fill="#000"/>
<rect x="73.26" y="214.90" width="4.60" height="4.60" fill="#000"/>
<rect x="96.22" y="214.90" width="4.60" height="4.60" fill="#000"/>
<rect x="119.18" y="214.90" width="4.60" height="4.60" fill="#000"/>
<rect x="142.14" y="217.70" width="4.60" height="4.60" fill="#000"/>
<rect x="165.10" y="214.90" width="4.60" height="4.60" fill="#000"/>
<rect x="188.06" y="214.90" width="4.60" height="4.60" fill="#000"/>
<rect x="211.02" y="221.20" width="4.60" height="4.60" fill="#000"/>
<line x1="121.48" y1="222.00" x2="121.48" y2="227.20" stroke="#000" stroke-width="1.7" stroke-linecap="butt"/>
<line x1="117.48" y1="222.00" x2="125.48" y2="222.00" stroke="#000" stroke-width="2.0" stroke-linecap="butt"/>
<line x1="117.48" y1="227.20" x2="125.48" y2="227.20" stroke="#000" stroke-width="2.0" stroke-linecap="butt"/>
<line x1="213.32" y1="219.90" x2="213.32" y2="227.20" stroke="#000" stroke-width="1.7" stroke-linecap="butt"/>
<line x1="209.32" y1="219.90" x2="217.32" y2="219.90" stroke="#000" stroke-width="2.0" stroke-linecap="butt"/>
<line x1="209.32" y1="227.20" x2="217.32" y2="227.20" stroke="#000" stroke-width="2.0" stroke-linecap="butt"/>
<polyline points="52.60,218.30 75.56,225.10 98.52,224.30 121.48,224.30 144.44,223.50 167.40,225.90 190.36,225.10 213.32,223.50" fill="none" stroke="#000" stroke-width="2.9" stroke-linejoin="round" stroke-linecap="butt"/>
<polygon points="49.50,221.09 55.70,221.09 52.60,215.51" fill="#000"/>
<polygon points="72.46,227.89 78.66,227.89 75.56,222.31" fill="#000"/>
<polygon points="95.42,227.09 101.62,227.09 98.52,221.51" fill="#000"/>
<polygon points="118.38,227.09 124.58,227.09 121.48,221.51" fill="#000"/>
<polygon points="141.34,226.29 147.54,226.29 144.44,220.71" fill="#000"/>
<polygon points="164.30,228.69 170.50,228.69 167.40,223.11" fill="#000"/>
<polygon points="187.26,227.89 193.46,227.89 190.36,222.31" fill="#000"/>
<polygon points="210.22,226.29 216.42,226.29 213.32,220.71" fill="#000"/>
<line x1="41.10" y1="215.45" x2="41.10" y2="344.85" stroke="#000" stroke-width="3.1" stroke-linecap="butt"/>
<line x1="225.00" y1="215.45" x2="225.00" y2="344.85" stroke="#000" stroke-width="3.1" stroke-linecap="butt"/>
<line x1="35.25" y1="343.30" x2="230.85" y2="343.30" stroke="#000" stroke-width="3.1" stroke-linecap="butt"/>
<line x1="35.25" y1="216.70" x2="41.10" y2="216.70" stroke="#000" stroke-width="2.8" stroke-linecap="butt"/>
<line x1="225.00" y1="216.70" x2="230.85" y2="216.70" stroke="#000" stroke-width="2.8" stroke-linecap="butt"/>
<line x1="35.25" y1="242.02" x2="41.10" y2="242.02" stroke="#000" stroke-width="2.8" stroke-linecap="butt"/>
<line x1="225.00" y1="242.02" x2="230.85" y2="242.02" stroke="#000" stroke-width="2.8" stroke-linecap="butt"/>
<line x1="35.25" y1="267.34" x2="41.10" y2="267.34" stroke="#000" stroke-width="2.8" stroke-linecap="butt"/>
<line x1="225.00" y1="267.34" x2="230.85" y2="267.34" stroke="#000" stroke-width="2.8" stroke-linecap="butt"/>
<line x1="35.25" y1="292.66" x2="41.10" y2="292.66" stroke="#000" stroke-width="2.8" stroke-linecap="butt"/>
<line x1="225.00" y1="292.66" x2="230.85" y2="292.66" stroke="#000" stroke-width="2.8" stroke-linecap="butt"/>
<line x1="35.25" y1="317.98" x2="41.10" y2="317.98" stroke="#000" stroke-width="2.8" stroke-linecap="butt"/>
<line x1="225.00" y1="317.98" x2="230.85" y2="317.98" stroke="#000" stroke-width="2.8" stroke-linecap="butt"/>
<line x1="35.25" y1="343.30" x2="41.10" y2="343.30" stroke="#000" stroke-width="2.8" stroke-linecap="butt"/>
<line x1="225.00" y1="343.30" x2="230.85" y2="343.30" stroke="#000" stroke-width="2.8" stroke-linecap="butt"/>
<line x1="52.60" y1="343.30" x2="52.60" y2="348.45" stroke="#000" stroke-width="2.8" stroke-linecap="butt"/>
<line x1="75.56" y1="343.30" x2="75.56" y2="348.45" stroke="#000" stroke-width="2.8" stroke-linecap="butt"/>
<line x1="98.52" y1="343.30" x2="98.52" y2="348.45" stroke="#000" stroke-width="2.8" stroke-linecap="butt"/>
<line x1="121.48" y1="343.30" x2="121.48" y2="348.45" stroke="#000" stroke-width="2.8" stroke-linecap="butt"/>
<line x1="144.44" y1="343.30" x2="144.44" y2="348.45" stroke="#000" stroke-width="2.8" stroke-linecap="butt"/>
<line x1="167.40" y1="343.30" x2="167.40" y2="348.45" stroke="#000" stroke-width="2.8" stroke-linecap="butt"/>
<line x1="190.36" y1="343.30" x2="190.36" y2="348.45" stroke="#000" stroke-width="2.8" stroke-linecap="butt"/>
<line x1="213.32" y1="343.30" x2="213.32" y2="348.45" stroke="#000" stroke-width="2.8" stroke-linecap="butt"/>
<text x="28.92" y="347.68" font-size="10.50" font-weight="normal" fill="#111">0</text>
<text x="22.08" y="322.36" font-size="10.50" font-weight="normal" fill="#111">20</text>
<text x="22.08" y="297.04" font-size="10.50" font-weight="normal" fill="#111">40</text>
<text x="22.08" y="271.72" font-size="10.50" font-weight="normal" fill="#111">60</text>
<text x="22.08" y="246.39" font-size="10.50" font-weight="normal" fill="#111">80</text>
<text x="17.70" y="221.07" font-size="10.50" font-weight="normal" fill="#111" textLength="16.64" lengthAdjust="spacingAndGlyphs">100</text>
<text x="231.34" y="347.68" font-size="10.50" font-weight="normal" fill="#111">0</text>
<text x="231.95" y="322.36" font-size="10.50" font-weight="normal" fill="#111">10</text>
<text x="232.22" y="297.04" font-size="10.50" font-weight="normal" fill="#111">20</text>
<text x="232.35" y="271.72" font-size="10.50" font-weight="normal" fill="#111">30</text>
<text x="232.51" y="246.39" font-size="10.50" font-weight="normal" fill="#111">40</text>
<text x="232.33" y="221.07" font-size="10.50" font-weight="normal" fill="#111">50</text>
<text x="49.68" y="360.80" font-size="10.50" font-weight="normal" fill="#111">0</text>
<text x="69.09" y="360.80" font-size="10.50" font-weight="normal" fill="#111">0.3</text>
<text x="95.46" y="360.80" font-size="10.50" font-weight="normal" fill="#111">1</text>
<text x="118.59" y="360.80" font-size="10.50" font-weight="normal" fill="#111">3</text>
<text x="138.41" y="360.80" font-size="10.50" font-weight="normal" fill="#111">10</text>
<text x="162.27" y="360.80" font-size="10.50" font-weight="normal" fill="#111">30</text>
<text x="181.36" y="360.80" font-size="10.50" font-weight="normal" fill="#111" textLength="16.64" lengthAdjust="spacingAndGlyphs">100</text>
<text x="206.17" y="360.80" font-size="10.50" font-weight="normal" fill="#111">300</text>
<text x="1.14" y="206.99" font-size="15.88" font-weight="bold" fill="#000" textLength="8.66" lengthAdjust="spacingAndGlyphs" class="lbl">c</text>
<text x="76.40" y="206.70" font-size="12.50" font-weight="normal" fill="#111" textLength="114.63" lengthAdjust="spacingAndGlyphs" class="ttl">Soluble TRAIL MEF</text>
<text x="76.29" y="371.80" font-size="10.50" font-weight="normal" fill="#111" textLength="105.18" lengthAdjust="spacingAndGlyphs">soluble TRAIL (ng/ml)</text>
<text transform="translate(12.60,327.75) rotate(-90)" x="-0.32" y="0" font-size="11.37" font-weight="normal" fill="#111" textLength="107.83" lengthAdjust="spacingAndGlyphs">survival (%untreated)</text>
<text transform="translate(262.08,222.95) rotate(90)" x="-0.69" y="0" font-size="10.72" font-weight="normal" fill="#111" textLength="105.11" lengthAdjust="spacingAndGlyphs">phosphorylated H2AX</text>
<text transform="translate(249.45,242.95) rotate(90)" x="-0.68" y="0" font-size="10.62" font-weight="normal" fill="#111" textLength="66.86" lengthAdjust="spacingAndGlyphs">(% untreated)</text>
<line x1="373.85" y1="323.70" x2="373.85" y2="330.10" stroke="#6b6b6b" stroke-width="1.7" stroke-linecap="butt"/>
<line x1="369.85" y1="323.70" x2="377.85" y2="323.70" stroke="#6b6b6b" stroke-width="2.0" stroke-linecap="butt"/>
<line x1="369.85" y1="330.10" x2="377.85" y2="330.10" stroke="#6b6b6b" stroke-width="2.0" stroke-linecap="butt"/>
<line x1="469.40" y1="314.80" x2="469.40" y2="323.70" stroke="#6b6b6b" stroke-width="1.7" stroke-linecap="butt"/>
<line x1="465.40" y1="314.80" x2="473.40" y2="314.80" stroke="#6b6b6b" stroke-width="2.0" stroke-linecap="butt"/>
<line x1="465.40" y1="323.70" x2="473.40" y2="323.70" stroke="#6b6b6b" stroke-width="2.0" stroke-linecap="butt"/>
<line x1="501.25" y1="305.20" x2="501.25" y2="317.30" stroke="#6b6b6b" stroke-width="1.7" stroke-linecap="butt"/>
<line x1="497.25" y1="305.20" x2="505.25" y2="305.20" stroke="#6b6b6b" stroke-width="2.0" stroke-linecap="butt"/>
<line x1="497.25" y1="317.30" x2="505.25" y2="317.30" stroke="#6b6b6b" stroke-width="2.0" stroke-linecap="butt"/>
<polyline points="342.00,337.10 373.85,326.90 405.70,330.10 437.55,334.90 469.40,318.90 501.25,311.00" fill="none" stroke="#6b6b6b" stroke-width="3.0" stroke-linejoin="round" stroke-linecap="butt"/>
<rect x="339.70" y="334.80" width="4.60" height="4.60" fill="#6b6b6b"/>
<rect x="371.55" y="324.60" width="4.60" height="4.60" fill="#6b6b6b"/>
<rect x="403.40" y="327.80" width="4.60" height="4.60" fill="#6b6b6b"/>
<rect x="435.25" y="332.60" width="4.60" height="4.60" fill="#6b6b6b"/>
<rect x="467.10" y="316.60" width="4.60" height="4.60" fill="#6b6b6b"/>
<rect x="498.95" y="308.70" width="4.60" height="4.60" fill="#6b6b6b"/>
<line x1="373.85" y1="328.50" x2="373.85" y2="334.90" stroke="#6b6b6b" stroke-width="1.7" stroke-linecap="butt"/>
<line x1="369.85" y1="328.50" x2="377.85" y2="328.50" stroke="#6b6b6b" stroke-width="2.0" stroke-linecap="butt"/>
<line x1="369.85" y1="334.90" x2="377.85" y2="334.90" stroke="#6b6b6b" stroke-width="2.0" stroke-linecap="butt"/>
<line x1="437.55" y1="294.40" x2="437.55" y2="304.60" stroke="#6b6b6b" stroke-width="1.7" stroke-linecap="butt"/>
<line x1="433.55" y1="294.40" x2="441.55" y2="294.40" stroke="#6b6b6b" stroke-width="2.0" stroke-linecap="butt"/>
<line x1="433.55" y1="304.60" x2="441.55" y2="304.60" stroke="#6b6b6b" stroke-width="2.0" stroke-linecap="butt"/>
<line x1="469.40" y1="275.30" x2="469.40" y2="285.50" stroke="#6b6b6b" stroke-width="1.7" stroke-linecap="butt"/>
<line x1="465.40" y1="275.30" x2="473.40" y2="275.30" stroke="#6b6b6b" stroke-width="2.0" stroke-linecap="butt"/>
<line x1="465.40" y1="285.50" x2="473.40" y2="285.50" stroke="#6b6b6b" stroke-width="2.0" stroke-linecap="butt"/>
<line x1="501.25" y1="268.90" x2="501.25" y2="280.70" stroke="#6b6b6b" stroke-width="1.7" stroke-linecap="butt"/>
<line x1="497.25" y1="268.90" x2="505.25" y2="268.90" stroke="#6b6b6b" stroke-width="2.0" stroke-linecap="butt"/>
<line x1="497.25" y1="280.70" x2="505.25" y2="280.70" stroke="#6b6b6b" stroke-width="2.0" stroke-linecap="butt"/>
<polyline points="342.00,337.10 373.85,331.70 405.70,309.40 437.55,299.80 469.40,280.70 501.25,275.00" fill="none" stroke="#6b6b6b" stroke-width="3.0" stroke-linejoin="round" stroke-linecap="butt"/>
<polygon points="338.90,339.89 345.10,339.89 342.00,334.31" fill="#6b6b6b"/>
<polygon points="370.75,334.49 376.95,334.49 373.85,328.91" fill="#6b6b6b"/>
<polygon points="402.60,312.19 408.80,312.19 405.70,306.61" fill="#6b6b6b"/>
<polygon points="434.45,302.59 440.65,302.59 437.55,297.01" fill="#6b6b6b"/>
<polygon points="466.30,283.49 472.50,283.49 469.40,277.91" fill="#6b6b6b"/>
<polygon points="498.15,277.79 504.35,277.79 501.25,272.21" fill="#6b6b6b"/>
<polyline points="342.00,219.10 373.85,219.10 405.70,219.10 437.55,219.10 469.40,219.10 501.25,219.10" fill="none" stroke="#000" stroke-width="2.2" stroke-linejoin="round" stroke-linecap="butt"/>
<rect x="339.70" y="216.80" width="4.60" height="4.60" fill="#000"/>
<rect x="371.55" y="216.80" width="4.60" height="4.60" fill="#000"/>
<rect x="403.40" y="216.80" width="4.60" height="4.60" fill="#000"/>
<rect x="435.25" y="216.80" width="4.60" height="4.60" fill="#000"/>
<rect x="467.10" y="216.80" width="4.60" height="4.60" fill="#000"/>
<rect x="498.95" y="216.80" width="4.60" height="4.60" fill="#000"/>
<polyline points="342.00,219.10 373.85,219.10 405.70,219.10 437.55,219.10 469.40,219.10 501.25,219.10" fill="none" stroke="#000" stroke-width="2.2" stroke-linejoin="round" stroke-linecap="butt"/>
<polygon points="338.90,221.89 345.10,221.89 342.00,216.31" fill="#000"/>
<polygon points="370.75,221.89 376.95,221.89 373.85,216.31" fill="#000"/>
<polygon points="402.60,221.89 408.80,221.89 405.70,216.31" fill="#000"/>
<polygon points="434.45,221.89 440.65,221.89 437.55,216.31" fill="#000"/>
<polygon points="466.30,221.89 472.50,221.89 469.40,216.31" fill="#000"/>
<polygon points="498.15,221.89 504.35,221.89 501.25,216.31" fill="#000"/>
<line x1="326.00" y1="216.15" x2="326.00" y2="342.15" stroke="#000" stroke-width="3.1" stroke-linecap="butt"/>
<line x1="517.70" y1="216.15" x2="517.70" y2="342.15" stroke="#000" stroke-width="3.1" stroke-linecap="butt"/>
<line x1="320.15" y1="340.60" x2="523.55" y2="340.60" stroke="#000" stroke-width="3.1" stroke-linecap="butt"/>
<line x1="320.15" y1="217.40" x2="326.00" y2="217.40" stroke="#000" stroke-width="2.8" stroke-linecap="butt"/>
<line x1="517.70" y1="217.40" x2="523.55" y2="217.40" stroke="#000" stroke-width="2.8" stroke-linecap="butt"/>
<line x1="320.15" y1="242.04" x2="326.00" y2="242.04" stroke="#000" stroke-width="2.8" stroke-linecap="butt"/>
<line x1="517.70" y1="242.04" x2="523.55" y2="242.04" stroke="#000" stroke-width="2.8" stroke-linecap="butt"/>
<line x1="320.15" y1="266.68" x2="326.00" y2="266.68" stroke="#000" stroke-width="2.8" stroke-linecap="butt"/>
<line x1="517.70" y1="266.68" x2="523.55" y2="266.68" stroke="#000" stroke-width="2.8" stroke-linecap="butt"/>
<line x1="320.15" y1="291.32" x2="326.00" y2="291.32" stroke="#000" stroke-width="2.8" stroke-linecap="butt"/>
<line x1="517.70" y1="291.32" x2="523.55" y2="291.32" stroke="#000" stroke-width="2.8" stroke-linecap="butt"/>
<line x1="320.15" y1="315.96" x2="326.00" y2="315.96" stroke="#000" stroke-width="2.8" stroke-linecap="butt"/>
<line x1="517.70" y1="315.96" x2="523.55" y2="315.96" stroke="#000" stroke-width="2.8" stroke-linecap="butt"/>
<line x1="320.15" y1="340.60" x2="326.00" y2="340.60" stroke="#000" stroke-width="2.8" stroke-linecap="butt"/>
<line x1="517.70" y1="340.60" x2="523.55" y2="340.60" stroke="#000" stroke-width="2.8" stroke-linecap="butt"/>
<line x1="342.00" y1="340.60" x2="342.00" y2="345.75" stroke="#000" stroke-width="2.8" stroke-linecap="butt"/>
<line x1="373.85" y1="340.60" x2="373.85" y2="345.75" stroke="#000" stroke-width="2.8" stroke-linecap="butt"/>
<line x1="405.70" y1="340.60" x2="405.70" y2="345.75" stroke="#000" stroke-width="2.8" stroke-linecap="butt"/>
<line x1="437.55" y1="340.60" x2="437.55" y2="345.75" stroke="#000" stroke-width="2.8" stroke-linecap="butt"/>
<line x1="469.40" y1="340.60" x2="469.40" y2="345.75" stroke="#000" stroke-width="2.8" stroke-linecap="butt"/>
<line x1="501.25" y1="340.60" x2="501.25" y2="345.75" stroke="#000" stroke-width="2.8" stroke-linecap="butt"/>
<text x="312.32" y="344.98" font-size="10.50" font-weight="normal" fill="#111">0</text>
<text x="306.98" y="320.34" font-size="10.50" font-weight="normal" fill="#111">20</text>
<text x="306.98" y="295.69" font-size="10.50" font-weight="normal" fill="#111">40</text>
<text x="306.98" y="271.06" font-size="10.50" font-weight="normal" fill="#111">60</text>
<text x="306.98" y="246.42" font-size="10.50" font-weight="normal" fill="#111">80</text>
<text x="302.60" y="221.78" font-size="10.50" font-weight="normal" fill="#111" textLength="16.64" lengthAdjust="spacingAndGlyphs">100</text>
<text x="526.04" y="344.98" font-size="10.50" font-weight="normal" fill="#111">0</text>
<text x="525.65" y="319.84" font-size="10.50" font-weight="normal" fill="#111">10</text>
<text x="525.93" y="294.69" font-size="10.50" font-weight="normal" fill="#111">20</text>
<text x="526.05" y="270.56" font-size="10.50" font-weight="normal" fill="#111">30</text>
<text x="526.21" y="246.42" font-size="10.50" font-weight="normal" fill="#111">40</text>
<text x="526.03" y="221.78" font-size="10.50" font-weight="normal" fill="#111">50</text>
<text x="339.08" y="357.00" font-size="10.50" font-weight="normal" fill="#111">0</text>
<text x="370.96" y="357.00" font-size="10.50" font-weight="normal" fill="#111">3</text>
<text x="399.67" y="357.00" font-size="10.50" font-weight="normal" fill="#111">10</text>
<text x="431.72" y="357.00" font-size="10.50" font-weight="normal" fill="#111">30</text>
<text x="460.90" y="357.00" font-size="10.50" font-weight="normal" fill="#111" textLength="16.64" lengthAdjust="spacingAndGlyphs">100</text>
<text x="492.50" y="357.00" font-size="10.50" font-weight="normal" fill="#111">300</text>
<text x="289.80" y="209.10" font-size="14.83" font-weight="bold" fill="#000" textLength="9.70" lengthAdjust="spacingAndGlyphs" class="lbl">d</text>
<text x="362.40" y="207.40" font-size="12.50" font-weight="normal" fill="#111" textLength="118.67" lengthAdjust="spacingAndGlyphs" class="ttl">Soluble TRAIL LN18</text>
<text x="369.69" y="368.60" font-size="10.50" font-weight="normal" fill="#111" textLength="104.88" lengthAdjust="spacingAndGlyphs">soluble TRAIL (ng/ml)</text>
<text transform="translate(298.22,333.75) rotate(-90)" x="-0.31" y="0" font-size="11.27" font-weight="normal" fill="#111" textLength="108.40" lengthAdjust="spacingAndGlyphs">survival (% untreated)</text>
<text transform="translate(556.21,225.35) rotate(90)" x="-0.70" y="0" font-size="10.40" font-weight="normal" fill="#111" textLength="106.32" lengthAdjust="spacingAndGlyphs">phosphorylated H2AX</text>
<text transform="translate(543.50,245.35) rotate(90)" x="-0.69" y="0" font-size="10.41" font-weight="normal" fill="#111" textLength="67.78" lengthAdjust="spacingAndGlyphs">(% untreated)</text>
<line x1="73.58" y1="509.50" x2="73.58" y2="522.70" stroke="#6b6b6b" stroke-width="1.7" stroke-linecap="butt"/>
<line x1="69.58" y1="509.50" x2="77.58" y2="509.50" stroke="#6b6b6b" stroke-width="2.0" stroke-linecap="butt"/>
<line x1="69.58" y1="522.70" x2="77.58" y2="522.70" stroke="#6b6b6b" stroke-width="2.0" stroke-linecap="butt"/>
<line x1="96.86" y1="507.60" x2="96.86" y2="531.00" stroke="#6b6b6b" stroke-width="1.7" stroke-linecap="butt"/>
<line x1="92.86" y1="507.60" x2="100.86" y2="507.60" stroke="#6b6b6b" stroke-width="2.0" stroke-linecap="butt"/>
<line x1="92.86" y1="531.00" x2="100.86" y2="531.00" stroke="#6b6b6b" stroke-width="2.0" stroke-linecap="butt"/>
<line x1="120.14" y1="499.60" x2="120.14" y2="531.00" stroke="#6b6b6b" stroke-width="1.7" stroke-linecap="butt"/>
<line x1="116.14" y1="499.60" x2="124.14" y2="499.60" stroke="#6b6b6b" stroke-width="2.0" stroke-linecap="butt"/>
<line x1="116.14" y1="531.00" x2="124.14" y2="531.00" stroke="#6b6b6b" stroke-width="2.0" stroke-linecap="butt"/>
<line x1="143.42" y1="484.80" x2="143.42" y2="519.50" stroke="#6b6b6b" stroke-width="1.7" stroke-linecap="butt"/>
<line x1="139.42" y1="484.80" x2="147.42" y2="484.80" stroke="#6b6b6b" stroke-width="2.0" stroke-linecap="butt"/>
<line x1="139.42" y1="519.50" x2="147.42" y2="519.50" stroke="#6b6b6b" stroke-width="2.0" stroke-linecap="butt"/>
<line x1="189.98" y1="498.80" x2="189.98" y2="510.30" stroke="#6b6b6b" stroke-width="1.7" stroke-linecap="butt"/>
<line x1="185.98" y1="498.80" x2="193.98" y2="498.80" stroke="#6b6b6b" stroke-width="2.0" stroke-linecap="butt"/>
<line x1="185.98" y1="510.30" x2="193.98" y2="510.30" stroke="#6b6b6b" stroke-width="2.0" stroke-linecap="butt"/>
<line x1="213.26" y1="498.40" x2="213.26" y2="506.30" stroke="#6b6b6b" stroke-width="1.7" stroke-linecap="butt"/>
<line x1="209.26" y1="498.40" x2="217.26" y2="498.40" stroke="#6b6b6b" stroke-width="2.0" stroke-linecap="butt"/>
<line x1="209.26" y1="506.30" x2="217.26" y2="506.30" stroke="#6b6b6b" stroke-width="2.0" stroke-linecap="butt"/>
<polyline points="50.30,534.90 73.58,516.30 96.86,519.30 120.14,509.70 143.42,501.50 166.70,520.70 189.98,504.70 213.26,502.30" fill="none" stroke="#6b6b6b" stroke-width="3.0" stroke-linejoin="round" stroke-linecap="butt"/>
<rect x="48.00" y="532.60" width="4.60" height="4.60" fill="#6b6b6b"/>
<rect x="71.28" y="514.00" width="4.60" height="4.60" fill="#6b6b6b"/>
<rect x="94.56" y="517.00" width="4.60" height="4.60" fill="#6b6b6b"/>
<rect x="117.84" y="507.40" width="4.60" height="4.60" fill="#6b6b6b"/>
<rect x="141.12" y="499.20" width="4.60" height="4.60" fill="#6b6b6b"/>
<rect x="164.40" y="518.40" width="4.60" height="4.60" fill="#6b6b6b"/>
<rect x="187.68" y="502.40" width="4.60" height="4.60" fill="#6b6b6b"/>
<rect x="210.96" y="500.00" width="4.60" height="4.60" fill="#6b6b6b"/>
<line x1="120.14" y1="492.20" x2="120.14" y2="508.00" stroke="#6b6b6b" stroke-width="1.7" stroke-linecap="butt"/>
<line x1="116.14" y1="492.20" x2="124.14" y2="492.20" stroke="#6b6b6b" stroke-width="2.0" stroke-linecap="butt"/>
<line x1="116.14" y1="508.00" x2="124.14" y2="508.00" stroke="#6b6b6b" stroke-width="2.0" stroke-linecap="butt"/>
<line x1="213.26" y1="453.80" x2="213.26" y2="464.50" stroke="#6b6b6b" stroke-width="1.7" stroke-linecap="butt"/>
<line x1="209.26" y1="453.80" x2="217.26" y2="453.80" stroke="#6b6b6b" stroke-width="2.0" stroke-linecap="butt"/>
<line x1="209.26" y1="464.50" x2="217.26" y2="464.50" stroke="#6b6b6b" stroke-width="2.0" stroke-linecap="butt"/>
<polyline points="50.30,534.90 73.58,534.50 96.86,502.80 120.14,500.20 143.42,493.60 166.70,481.30 189.98,471.30 213.26,459.30" fill="none" stroke="#6b6b6b" stroke-width="3.0" stroke-linejoin="round" stroke-linecap="butt"/>
<polygon points="47.20,537.69 53.40,537.69 50.30,532.11" fill="#6b6b6b"/>
<polygon points="70.48,537.29 76.68,537.29 73.58,531.71" fill="#6b6b6b"/>
<polygon points="93.76,505.59 99.96,505.59 96.86,500.01" fill="#6b6b6b"/>
<polygon points="117.04,502.99 123.24,502.99 120.14,497.41" fill="#6b6b6b"/>
<polygon points="140.32,496.39 146.52,496.39 143.42,490.81" fill="#6b6b6b"/>
<polygon points="163.60,484.09 169.80,484.09 166.70,478.51" fill="#6b6b6b"/>
<polygon points="186.88,474.09 193.08,474.09 189.98,468.51" fill="#6b6b6b"/>
<polygon points="210.16,462.09 216.36,462.09 213.26,456.51" fill="#6b6b6b"/>
<polyline points="50.30,414.60 73.58,416.00 96.86,416.50 120.14,416.00 143.42,417.00 166.70,415.00 189.98,418.50 213.26,417.50" fill="none" stroke="#000" stroke-width="2.9" stroke-linejoin="round" stroke-linecap="butt"/>
<rect x="48.00" y="412.30" width="4.60" height="4.60" fill="#000"/>
<rect x="71.28" y="413.70" width="4.60" height="4.60" fill="#000"/>
<rect x="94.56" y="414.20" width="4.60" height="4.60" fill="#000"/>
<rect x="117.84" y="413.70" width="4.60" height="4.60" fill="#000"/>
<rect x="141.12" y="414.70" width="4.60" height="4.60" fill="#000"/>
<rect x="164.40" y="412.70" width="4.60" height="4.60" fill="#000"/>
<rect x="187.68" y="416.20" width="4.60" height="4.60" fill="#000"/>
<rect x="210.96" y="415.20" width="4.60" height="4.60" fill="#000"/>
<line x1="120.14" y1="415.00" x2="120.14" y2="423.30" stroke="#000" stroke-width="1.7" stroke-linecap="butt"/>
<line x1="116.14" y1="415.00" x2="124.14" y2="415.00" stroke="#000" stroke-width="2.0" stroke-linecap="butt"/>
<line x1="116.14" y1="423.30" x2="124.14" y2="423.30" stroke="#000" stroke-width="2.0" stroke-linecap="butt"/>
<line x1="143.42" y1="415.50" x2="143.42" y2="422.50" stroke="#000" stroke-width="1.7" stroke-linecap="butt"/>
<line x1="139.42" y1="415.50" x2="147.42" y2="415.50" stroke="#000" stroke-width="2.0" stroke-linecap="butt"/>
<line x1="139.42" y1="422.50" x2="147.42" y2="422.50" stroke="#000" stroke-width="2.0" stroke-linecap="butt"/>
<polyline points="50.30,414.60 73.58,417.00 96.86,418.00 120.14,418.00 143.42,418.50 166.70,416.50 189.98,419.00 213.26,417.50" fill="none" stroke="#000" stroke-width="2.9" stroke-linejoin="round" stroke-linecap="butt"/>
<polygon points="47.20,417.39 53.40,417.39 50.30,411.81" fill="#000"/>
<polygon points="70.48,419.79 76.68,419.79 73.58,414.21" fill="#000"/>
<polygon points="93.76,420.79 99.96,420.79 96.86,415.21" fill="#000"/>
<polygon points="117.04,420.79 123.24,420.79 120.14,415.21" fill="#000"/>
<polygon points="140.32,421.29 146.52,421.29 143.42,415.71" fill="#000"/>
<polygon points="163.60,419.29 169.80,419.29 166.70,413.71" fill="#000"/>
<polygon points="186.88,421.79 193.08,421.79 189.98,416.21" fill="#000"/>
<polygon points="210.16,420.29 216.36,420.29 213.26,414.71" fill="#000"/>
<line x1="38.60" y1="412.05" x2="38.60" y2="539.55" stroke="#000" stroke-width="3.1" stroke-linecap="butt"/>
<line x1="225.00" y1="412.05" x2="225.00" y2="539.55" stroke="#000" stroke-width="3.1" stroke-linecap="butt"/>
<line x1="32.75" y1="538.00" x2="230.85" y2="538.00" stroke="#000" stroke-width="3.1" stroke-linecap="butt"/>
<line x1="32.75" y1="413.30" x2="38.60" y2="413.30" stroke="#000" stroke-width="2.8" stroke-linecap="butt"/>
<line x1="225.00" y1="413.30" x2="230.85" y2="413.30" stroke="#000" stroke-width="2.8" stroke-linecap="butt"/>
<line x1="32.75" y1="438.24" x2="38.60" y2="438.24" stroke="#000" stroke-width="2.8" stroke-linecap="butt"/>
<line x1="225.00" y1="438.24" x2="230.85" y2="438.24" stroke="#000" stroke-width="2.8" stroke-linecap="butt"/>
<line x1="32.75" y1="463.18" x2="38.60" y2="463.18" stroke="#000" stroke-width="2.8" stroke-linecap="butt"/>
<line x1="225.00" y1="463.18" x2="230.85" y2="463.18" stroke="#000" stroke-width="2.8" stroke-linecap="butt"/>
<line x1="32.75" y1="488.12" x2="38.60" y2="488.12" stroke="#000" stroke-width="2.8" stroke-linecap="butt"/>
<line x1="225.00" y1="488.12" x2="230.85" y2="488.12" stroke="#000" stroke-width="2.8" stroke-linecap="butt"/>
<line x1="32.75" y1="513.06" x2="38.60" y2="513.06" stroke="#000" stroke-width="2.8" stroke-linecap="butt"/>
<line x1="225.00" y1="513.06" x2="230.85" y2="513.06" stroke="#000" stroke-width="2.8" stroke-linecap="butt"/>
<line x1="32.75" y1="538.00" x2="38.60" y2="538.00" stroke="#000" stroke-width="2.8" stroke-linecap="butt"/>
<line x1="225.00" y1="538.00" x2="230.85" y2="538.00" stroke="#000" stroke-width="2.8" stroke-linecap="butt"/>
<line x1="50.30" y1="538.00" x2="50.30" y2="543.15" stroke="#000" stroke-width="2.8" stroke-linecap="butt"/>
<line x1="73.58" y1="538.00" x2="73.58" y2="543.15" stroke="#000" stroke-width="2.8" stroke-linecap="butt"/>
<line x1="96.86" y1="538.00" x2="96.86" y2="543.15" stroke="#000" stroke-width="2.8" stroke-linecap="butt"/>
<line x1="120.14" y1="538.00" x2="120.14" y2="543.15" stroke="#000" stroke-width="2.8" stroke-linecap="butt"/>
<line x1="143.42" y1="538.00" x2="143.42" y2="543.15" stroke="#000" stroke-width="2.8" stroke-linecap="butt"/>
<line x1="166.70" y1="538.00" x2="166.70" y2="543.15" stroke="#000" stroke-width="2.8" stroke-linecap="butt"/>
<line x1="189.98" y1="538.00" x2="189.98" y2="543.15" stroke="#000" stroke-width="2.8" stroke-linecap="butt"/>
<line x1="213.26" y1="538.00" x2="213.26" y2="543.15" stroke="#000" stroke-width="2.8" stroke-linecap="butt"/>
<text x="26.22" y="542.38" font-size="10.50" font-weight="normal" fill="#111">0</text>
<text x="19.08" y="517.43" font-size="10.50" font-weight="normal" fill="#111">20</text>
<text x="19.08" y="492.50" font-size="10.50" font-weight="normal" fill="#111">40</text>
<text x="19.08" y="467.56" font-size="10.50" font-weight="normal" fill="#111">60</text>
<text x="19.08" y="442.62" font-size="10.50" font-weight="normal" fill="#111">80</text>
<text x="15.20" y="417.68" font-size="10.50" font-weight="normal" fill="#111" textLength="16.64" lengthAdjust="spacingAndGlyphs">100</text>
<text x="231.34" y="542.38" font-size="10.50" font-weight="normal" fill="#111">0</text>
<text x="232.05" y="517.43" font-size="10.50" font-weight="normal" fill="#111">10</text>
<text x="232.32" y="492.50" font-size="10.50" font-weight="normal" fill="#111">20</text>
<text x="232.45" y="467.56" font-size="10.50" font-weight="normal" fill="#111">30</text>
<text x="232.61" y="442.62" font-size="10.50" font-weight="normal" fill="#111">40</text>
<text x="232.43" y="417.68" font-size="10.50" font-weight="normal" fill="#111">50</text>
<text x="47.38" y="554.10" font-size="10.50" font-weight="normal" fill="#111">0</text>
<text x="63.42" y="554.10" font-size="10.50" font-weight="normal" fill="#111">0.02</text>
<text x="88.16" y="554.10" font-size="10.50" font-weight="normal" fill="#111">0.05</text>
<text x="112.90" y="554.10" font-size="10.50" font-weight="normal" fill="#111">0.2</text>
<text x="136.14" y="554.10" font-size="10.50" font-weight="normal" fill="#111">0.5</text>
<text x="159.23" y="554.10" font-size="10.50" font-weight="normal" fill="#111">1.6</text>
<text x="182.62" y="554.10" font-size="10.50" font-weight="normal" fill="#111">5.4</text>
<text x="207.25" y="554.10" font-size="10.50" font-weight="normal" fill="#111">16</text>
<text x="1.12" y="403.69" font-size="16.24" font-weight="bold" fill="#000" textLength="8.98" lengthAdjust="spacingAndGlyphs" class="lbl">e</text>
<text x="84.14" y="404.60" font-size="12.50" font-weight="normal" fill="#111" textLength="80.47" lengthAdjust="spacingAndGlyphs" class="ttl">Cisplatin MEF</text>
<text x="84.97" y="566.50" font-size="10.50" font-weight="normal" fill="#111" textLength="72.37" lengthAdjust="spacingAndGlyphs">cisplatin (µg/ml)</text>
<text transform="translate(9.34,529.65) rotate(-90)" x="-0.31" y="0" font-size="11.16" font-weight="normal" fill="#111" textLength="109.31" lengthAdjust="spacingAndGlyphs">survival (% untreated)</text>
<text transform="translate(261.33,422.15) rotate(90)" x="-0.70" y="0" font-size="10.50" font-weight="normal" fill="#111" textLength="106.53" lengthAdjust="spacingAndGlyphs">phosphorylated H2AX</text>
<text transform="translate(248.79,442.35) rotate(90)" x="-0.70" y="0" font-size="10.84" font-weight="normal" fill="#111" textLength="68.40" lengthAdjust="spacingAndGlyphs">(% untreated)</text>
<line x1="412.35" y1="526.50" x2="412.35" y2="531.50" stroke="#6b6b6b" stroke-width="1.7" stroke-linecap="butt"/>
<line x1="408.35" y1="526.50" x2="416.35" y2="526.50" stroke="#6b6b6b" stroke-width="2.0" stroke-linecap="butt"/>
<line x1="408.35" y1="531.50" x2="416.35" y2="531.50" stroke="#6b6b6b" stroke-width="2.0" stroke-linecap="butt"/>
<polyline points="342.90,534.00 366.05,532.00 389.20,529.50 412.35,528.90 435.50,532.00 458.65,531.40 481.80,530.80 504.95,518.70" fill="none" stroke="#6b6b6b" stroke-width="3.0" stroke-linejoin="round" stroke-linecap="butt"/>
<rect x="340.60" y="531.70" width="4.60" height="4.60" fill="#6b6b6b"/>
<rect x="363.75" y="529.70" width="4.60" height="4.60" fill="#6b6b6b"/>
<rect x="386.90" y="527.20" width="4.60" height="4.60" fill="#6b6b6b"/>
<rect x="410.05" y="526.60" width="4.60" height="4.60" fill="#6b6b6b"/>
<rect x="433.20" y="529.70" width="4.60" height="4.60" fill="#6b6b6b"/>
<rect x="456.35" y="529.10" width="4.60" height="4.60" fill="#6b6b6b"/>
<rect x="479.50" y="528.50" width="4.60" height="4.60" fill="#6b6b6b"/>
<rect x="502.65" y="516.40" width="4.60" height="4.60" fill="#6b6b6b"/>
<line x1="458.65" y1="517.00" x2="458.65" y2="525.70" stroke="#6b6b6b" stroke-width="1.7" stroke-linecap="butt"/>
<line x1="454.65" y1="517.00" x2="462.65" y2="517.00" stroke="#6b6b6b" stroke-width="2.0" stroke-linecap="butt"/>
<line x1="454.65" y1="525.70" x2="462.65" y2="525.70" stroke="#6b6b6b" stroke-width="2.0" stroke-linecap="butt"/>
<line x1="481.80" y1="522.50" x2="481.80" y2="527.50" stroke="#6b6b6b" stroke-width="1.7" stroke-linecap="butt"/>
<line x1="477.80" y1="522.50" x2="485.80" y2="522.50" stroke="#6b6b6b" stroke-width="2.0" stroke-linecap="butt"/>
<line x1="477.80" y1="527.50" x2="485.80" y2="527.50" stroke="#6b6b6b" stroke-width="2.0" stroke-linecap="butt"/>
<polyline points="342.90,534.00 366.05,530.80 389.20,528.90 412.35,532.00 435.50,522.80 458.65,521.90 481.80,525.00 504.95,504.30" fill="none" stroke="#6b6b6b" stroke-width="3.0" stroke-linejoin="round" stroke-linecap="butt"/>
<polygon points="339.80,536.79 346.00,536.79 342.90,531.21" fill="#6b6b6b"/>
<polygon points="362.95,533.59 369.15,533.59 366.05,528.01" fill="#6b6b6b"/>
<polygon points="386.10,531.69 392.30,531.69 389.20,526.11" fill="#6b6b6b"/>
<polygon points="409.25,534.79 415.45,534.79 412.35,529.21" fill="#6b6b6b"/>
<polygon points="432.40,525.59 438.60,525.59 435.50,520.01" fill="#6b6b6b"/>
<polygon points="455.55,524.69 461.75,524.69 458.65,519.11" fill="#6b6b6b"/>
<polygon points="478.70,527.79 484.90,527.79 481.80,522.21" fill="#6b6b6b"/>
<polygon points="501.85,507.09 508.05,507.09 504.95,501.51" fill="#6b6b6b"/>
<polyline points="342.90,412.70 366.05,412.70 389.20,412.10 412.35,412.70 435.50,413.70 458.65,413.70 481.80,415.80 504.95,412.10" fill="none" stroke="#000" stroke-width="2.9" stroke-linejoin="round" stroke-linecap="butt"/>
<rect x="340.60" y="410.40" width="4.60" height="4.60" fill="#000"/>
<rect x="363.75" y="410.40" width="4.60" height="4.60" fill="#000"/>
<rect x="386.90" y="409.80" width="4.60" height="4.60" fill="#000"/>
<rect x="410.05" y="410.40" width="4.60" height="4.60" fill="#000"/>
<rect x="433.20" y="411.40" width="4.60" height="4.60" fill="#000"/>
<rect x="456.35" y="411.40" width="4.60" height="4.60" fill="#000"/>
<rect x="479.50" y="413.50" width="4.60" height="4.60" fill="#000"/>
<rect x="502.65" y="409.80" width="4.60" height="4.60" fill="#000"/>
<polyline points="342.90,412.70 366.05,412.70 389.20,412.10 412.35,412.70 435.50,413.70 458.65,413.70 481.80,414.50 504.95,412.10" fill="none" stroke="#000" stroke-width="2.9" stroke-linejoin="round" stroke-linecap="butt"/>
<polygon points="339.80,415.49 346.00,415.49 342.90,409.91" fill="#000"/>
<polygon points="362.95,415.49 369.15,415.49 366.05,409.91" fill="#000"/>
<polygon points="386.10,414.89 392.30,414.89 389.20,409.31" fill="#000"/>
<polygon points="409.25,415.49 415.45,415.49 412.35,409.91" fill="#000"/>
<polygon points="432.40,416.49 438.60,416.49 435.50,410.91" fill="#000"/>
<polygon points="455.55,416.49 461.75,416.49 458.65,410.91" fill="#000"/>
<polygon points="478.70,417.29 484.90,417.29 481.80,411.71" fill="#000"/>
<polygon points="501.85,414.89 508.05,414.89 504.95,409.31" fill="#000"/>
<line x1="331.00" y1="410.25" x2="331.00" y2="538.95" stroke="#000" stroke-width="3.1" stroke-linecap="butt"/>
<line x1="516.30" y1="410.25" x2="516.30" y2="538.95" stroke="#000" stroke-width="3.1" stroke-linecap="butt"/>
<line x1="325.15" y1="537.40" x2="522.15" y2="537.40" stroke="#000" stroke-width="3.1" stroke-linecap="butt"/>
<line x1="325.15" y1="411.50" x2="331.00" y2="411.50" stroke="#000" stroke-width="2.8" stroke-linecap="butt"/>
<line x1="516.30" y1="411.50" x2="522.15" y2="411.50" stroke="#000" stroke-width="2.8" stroke-linecap="butt"/>
<line x1="325.15" y1="436.68" x2="331.00" y2="436.68" stroke="#000" stroke-width="2.8" stroke-linecap="butt"/>
<line x1="516.30" y1="436.68" x2="522.15" y2="436.68" stroke="#000" stroke-width="2.8" stroke-linecap="butt"/>
<line x1="325.15" y1="461.86" x2="331.00" y2="461.86" stroke="#000" stroke-width="2.8" stroke-linecap="butt"/>
<line x1="516.30" y1="461.86" x2="522.15" y2="461.86" stroke="#000" stroke-width="2.8" stroke-linecap="butt"/>
<line x1="325.15" y1="487.04" x2="331.00" y2="487.04" stroke="#000" stroke-width="2.8" stroke-linecap="butt"/>
<line x1="516.30" y1="487.04" x2="522.15" y2="487.04" stroke="#000" stroke-width="2.8" stroke-linecap="butt"/>
<line x1="325.15" y1="512.22" x2="331.00" y2="512.22" stroke="#000" stroke-width="2.8" stroke-linecap="butt"/>
<line x1="516.30" y1="512.22" x2="522.15" y2="512.22" stroke="#000" stroke-width="2.8" stroke-linecap="butt"/>
<line x1="325.15" y1="537.40" x2="331.00" y2="537.40" stroke="#000" stroke-width="2.8" stroke-linecap="butt"/>
<line x1="516.30" y1="537.40" x2="522.15" y2="537.40" stroke="#000" stroke-width="2.8" stroke-linecap="butt"/>
<line x1="342.90" y1="537.40" x2="342.90" y2="542.55" stroke="#000" stroke-width="2.8" stroke-linecap="butt"/>
<line x1="366.05" y1="537.40" x2="366.05" y2="542.55" stroke="#000" stroke-width="2.8" stroke-linecap="butt"/>
<line x1="389.20" y1="537.40" x2="389.20" y2="542.55" stroke="#000" stroke-width="2.8" stroke-linecap="butt"/>
<line x1="412.35" y1="537.40" x2="412.35" y2="542.55" stroke="#000" stroke-width="2.8" stroke-linecap="butt"/>
<line x1="435.50" y1="537.40" x2="435.50" y2="542.55" stroke="#000" stroke-width="2.8" stroke-linecap="butt"/>
<line x1="458.65" y1="537.40" x2="458.65" y2="542.55" stroke="#000" stroke-width="2.8" stroke-linecap="butt"/>
<line x1="481.80" y1="537.40" x2="481.80" y2="542.55" stroke="#000" stroke-width="2.8" stroke-linecap="butt"/>
<line x1="504.95" y1="537.40" x2="504.95" y2="542.55" stroke="#000" stroke-width="2.8" stroke-linecap="butt"/>
<text x="317.32" y="538.48" font-size="10.50" font-weight="normal" fill="#111">0</text>
<text x="311.98" y="514.70" font-size="10.50" font-weight="normal" fill="#111">20</text>
<text x="311.98" y="491.11" font-size="10.50" font-weight="normal" fill="#111">40</text>
<text x="311.98" y="465.13" font-size="10.50" font-weight="normal" fill="#111">60</text>
<text x="311.98" y="440.56" font-size="10.50" font-weight="normal" fill="#111">80</text>
<text x="307.10" y="416.77" font-size="10.50" font-weight="normal" fill="#111" textLength="16.64" lengthAdjust="spacingAndGlyphs">100</text>
<text x="525.24" y="539.67" font-size="10.50" font-weight="normal" fill="#111">0</text>
<text x="523.25" y="515.39" font-size="10.50" font-weight="normal" fill="#111">10</text>
<text x="523.52" y="491.41" font-size="10.50" font-weight="normal" fill="#111">20</text>
<text x="523.65" y="466.24" font-size="10.50" font-weight="normal" fill="#111">30</text>
<text x="523.81" y="440.56" font-size="10.50" font-weight="normal" fill="#111">40</text>
<text x="523.63" y="415.88" font-size="10.50" font-weight="normal" fill="#111">50</text>
<text x="339.98" y="552.70" font-size="10.50" font-weight="normal" fill="#111">0</text>
<text x="356.39" y="552.70" font-size="10.50" font-weight="normal" fill="#111">0.02</text>
<text x="380.80" y="552.70" font-size="10.50" font-weight="normal" fill="#111">0.05</text>
<text x="405.91" y="552.70" font-size="10.50" font-weight="normal" fill="#111">0.2</text>
<text x="429.22" y="552.70" font-size="10.50" font-weight="normal" fill="#111">0.5</text>
<text x="452.18" y="552.70" font-size="10.50" font-weight="normal" fill="#111">1.6</text>
<text x="475.44" y="552.70" font-size="10.50" font-weight="normal" fill="#111">5.4</text>
<text x="499.94" y="552.70" font-size="10.50" font-weight="normal" fill="#111">16</text>
<text x="290.22" y="406.65" font-size="16.28" font-weight="bold" fill="#000" textLength="4.50" lengthAdjust="spacingAndGlyphs" class="lbl">f</text>
<text x="378.64" y="404.60" font-size="12.50" font-weight="normal" fill="#111" textLength="84.53" lengthAdjust="spacingAndGlyphs" class="ttl">Cisplatin LN18</text>
<text x="384.17" y="564.70" font-size="10.50" font-weight="normal" fill="#111" textLength="72.47" lengthAdjust="spacingAndGlyphs">cisplatin (µg/ml)</text>
<text transform="translate(303.01,525.75) rotate(-90)" x="-0.30" y="0" font-size="10.84" font-weight="normal" fill="#111" textLength="105.07" lengthAdjust="spacingAndGlyphs">survival (% untreated)</text>
<text transform="translate(556.21,422.15) rotate(90)" x="-0.68" y="0" font-size="10.40" font-weight="normal" fill="#111" textLength="103.60" lengthAdjust="spacingAndGlyphs">phosphorylated H2AX</text>
<text transform="translate(543.55,442.45) rotate(90)" x="-0.67" y="0" font-size="10.62" font-weight="normal" fill="#111" textLength="65.64" lengthAdjust="spacingAndGlyphs">(% untreated)</text>
<rect x="158.9" y="579.9" width="246.2" height="47.8" fill="none" stroke="#333" stroke-width="1.4"/>
<line x1="161.90" y1="596.90" x2="188.50" y2="596.90" stroke="#6b6b6b" stroke-width="2.0" stroke-linecap="butt"/>
<rect x="171.90" y="594.60" width="5.40" height="5.40" fill="#6b6b6b"/>
<line x1="161.90" y1="610.90" x2="188.50" y2="610.90" stroke="#6b6b6b" stroke-width="2.0" stroke-linecap="butt"/>
<polygon points="170.2,615.7 179.0,615.7 174.6,606.6" fill="#6b6b6b"/>
<text x="193.25" y="600.90" font-size="10.00" font-weight="normal" fill="#111" textLength="55.85" lengthAdjust="spacingAndGlyphs" class="ttl">γH2AX 1hr</text>
<text x="193.25" y="614.40" font-size="10.00" font-weight="normal" fill="#111" textLength="62.68" lengthAdjust="spacingAndGlyphs" class="ttl">γH2AX 5hrs</text>
<line x1="288.30" y1="596.80" x2="307.40" y2="596.80" stroke="#000" stroke-width="1.7" stroke-linecap="butt"/>
<rect x="295.10" y="594.90" width="3.80" height="3.80" fill="#000"/>
<line x1="288.30" y1="610.80" x2="307.40" y2="610.80" stroke="#000" stroke-width="1.7" stroke-linecap="butt"/>
<polygon points="294.4,613.6 300.1,613.6 297.25,608.6" fill="#000"/>
<text x="308.70" y="600.20" font-size="10.00" font-weight="normal" fill="#111" textLength="66.09" lengthAdjust="spacingAndGlyphs" class="ttl">PI-uptake 1hr</text>
<text x="308.69" y="614.60" font-size="10.00" font-weight="normal" fill="#111" textLength="72.11" lengthAdjust="spacingAndGlyphs" class="ttl">PI-uptake 5hrs</text>
</svg>
</body></html>
